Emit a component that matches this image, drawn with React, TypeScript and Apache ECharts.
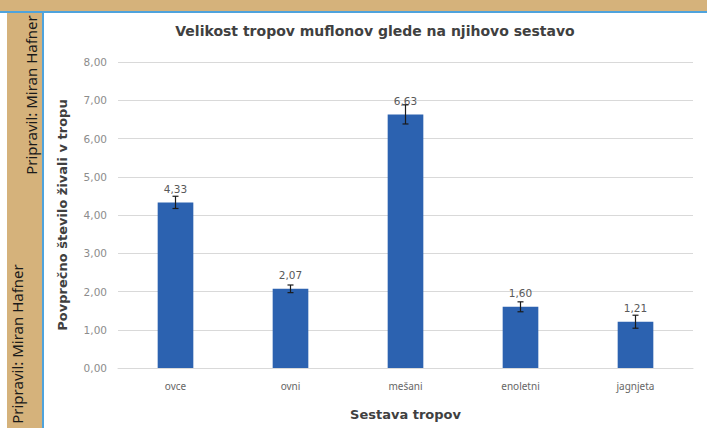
import React, { useEffect, useRef } from "react";
import * as echarts from "echarts";

const categories = ["ovce", "ovni", "mešani", "enoletni", "jagnjeta"];
const values = [4.33, 2.07, 6.63, 1.6, 1.21];
const errors = [0.16, 0.1, 0.25, 0.13, 0.17];
const yTicks = { min: 0, max: 8, interval: 1 };

const titleText = "Velikost tropov muflonov glede na njihovo sestavo";
const yTitle = "Povprečno število živali v tropu";
const xTitle = "Sestava tropov";
const credit = "Pripravil: Miran Hafner";

const fmt = (v: number) => v.toFixed(2).replace(".", ",");

export default function App() {
  const ref = useRef<HTMLDivElement>(null);
  useEffect(() => {
    if (!ref.current) return;
    const chart = echarts.init(ref.current, null, { renderer: "svg" });
    const tan = "#d5b27b";
    const blue = "#4fa3dc";
    chart.setOption({
      animation: false,
      backgroundColor: "#ffffff",
      grid: { left: 118, right: 14, top: 62, bottom: 60 },
      xAxis: {
        type: "category",
        data: categories,
        axisTick: { show: false },
        axisLine: { lineStyle: { color: "#d9d9d9", width: 1 } },
        axisLabel: { color: "#666666", fontSize: 10, margin: 13, fontFamily: "Noto Sans" },
        name: xTitle,
        nameLocation: "middle",
        nameGap: 40,
        nameTextStyle: { color: "#404040", fontSize: 13, fontWeight: "bold", fontFamily: "DejaVu Sans" },
      },
      yAxis: {
        type: "value",
        min: yTicks.min,
        max: yTicks.max,
        interval: yTicks.interval,
        axisLine: { show: false },
        axisTick: { show: false },
        splitLine: { lineStyle: { color: "#d9d9d9", width: 1 } },
        axisLabel: { color: "#8c8c8c", fontSize: 10.5, margin: 11, formatter: (v: number) => fmt(v), fontFamily: "DejaVu Sans" },
        name: yTitle,
        nameLocation: "middle",
        nameGap: 49,
        nameRotate: 90,
        nameTextStyle: { color: "#404040", fontSize: 13, fontWeight: "bold", fontFamily: "DejaVu Sans" },
      },
      series: [
        {
          type: "bar",
          data: values,
          barWidth: "31%",
          itemStyle: { color: "#2c62b0" },
          label: {
            show: true,
            position: "top",
            distance: 8,
            color: "#595959",
            fontSize: 10.5,
            fontFamily: "DejaVu Sans",
            formatter: (p: any) => fmt(p.value),
          },
        },
        {
          type: "custom",
          z: 10,
          data: values.map((v, i) => [i, v - errors[i], v + errors[i]]),
          renderItem: (params: any, api: any) => {
            const x = api.value(0);
            const lo = api.coord([x, api.value(1)]);
            const hi = api.coord([x, api.value(2)]);
            const h = 3;
            const st = { stroke: "#1a1a1a", lineWidth: 1.2 };
            return {
              type: "group",
              children: [
                { type: "line", shape: { x1: hi[0], y1: hi[1], x2: lo[0], y2: lo[1] }, style: st },
                { type: "line", shape: { x1: hi[0] - h, y1: hi[1], x2: hi[0] + h, y2: hi[1] }, style: st },
                { type: "line", shape: { x1: lo[0] - h, y1: lo[1], x2: lo[0] + h, y2: lo[1] }, style: st },
              ],
            };
          },
        },
      ],
      graphic: [
        { type: "rect", left: 0, top: 0, shape: { width: 707, height: 11 }, style: { fill: tan }, z: 100 },
        { type: "rect", left: 0, top: 11, shape: { width: 707, height: 2 }, style: { fill: blue }, z: 100 },
        { type: "rect", left: 7, top: 13, shape: { width: 35, height: 415 }, style: { fill: tan }, z: 100 },
        { type: "rect", left: 42, top: 13, shape: { width: 2, height: 415 }, style: { fill: blue }, z: 100 },
        {
          type: "text",
          x: 31,
          y: 95,
          rotation: Math.PI / 2,
          z: 101,
          style: {
            text: credit,
            fill: "#1a1a1a",
            font: "15px 'Noto Sans'",
            textAlign: "center",
            textVerticalAlign: "middle",
          },
        },
        {
          type: "text",
          x: 17,
          y: 344,
          rotation: Math.PI / 2,
          z: 101,
          style: {
            text: credit,
            fill: "#1a1a1a",
            font: "15px 'Noto Sans'",
            textAlign: "center",
            textVerticalAlign: "middle",
          },
        },
        {
          type: "text",
          x: 375,
          y: 31,
          z: 50,
          style: {
            text: titleText,
            fill: "#404040",
            font: "bold 14px 'DejaVu Sans'",
            textAlign: "center",
            textVerticalAlign: "middle",
          },
        },
      ],
    });
    return () => chart.dispose();
  }, []);
  return (
    <div
      ref={ref}
      style={{ position: "fixed", left: 0, top: 0, width: 707, height: 428 }}
    />
  );
}
